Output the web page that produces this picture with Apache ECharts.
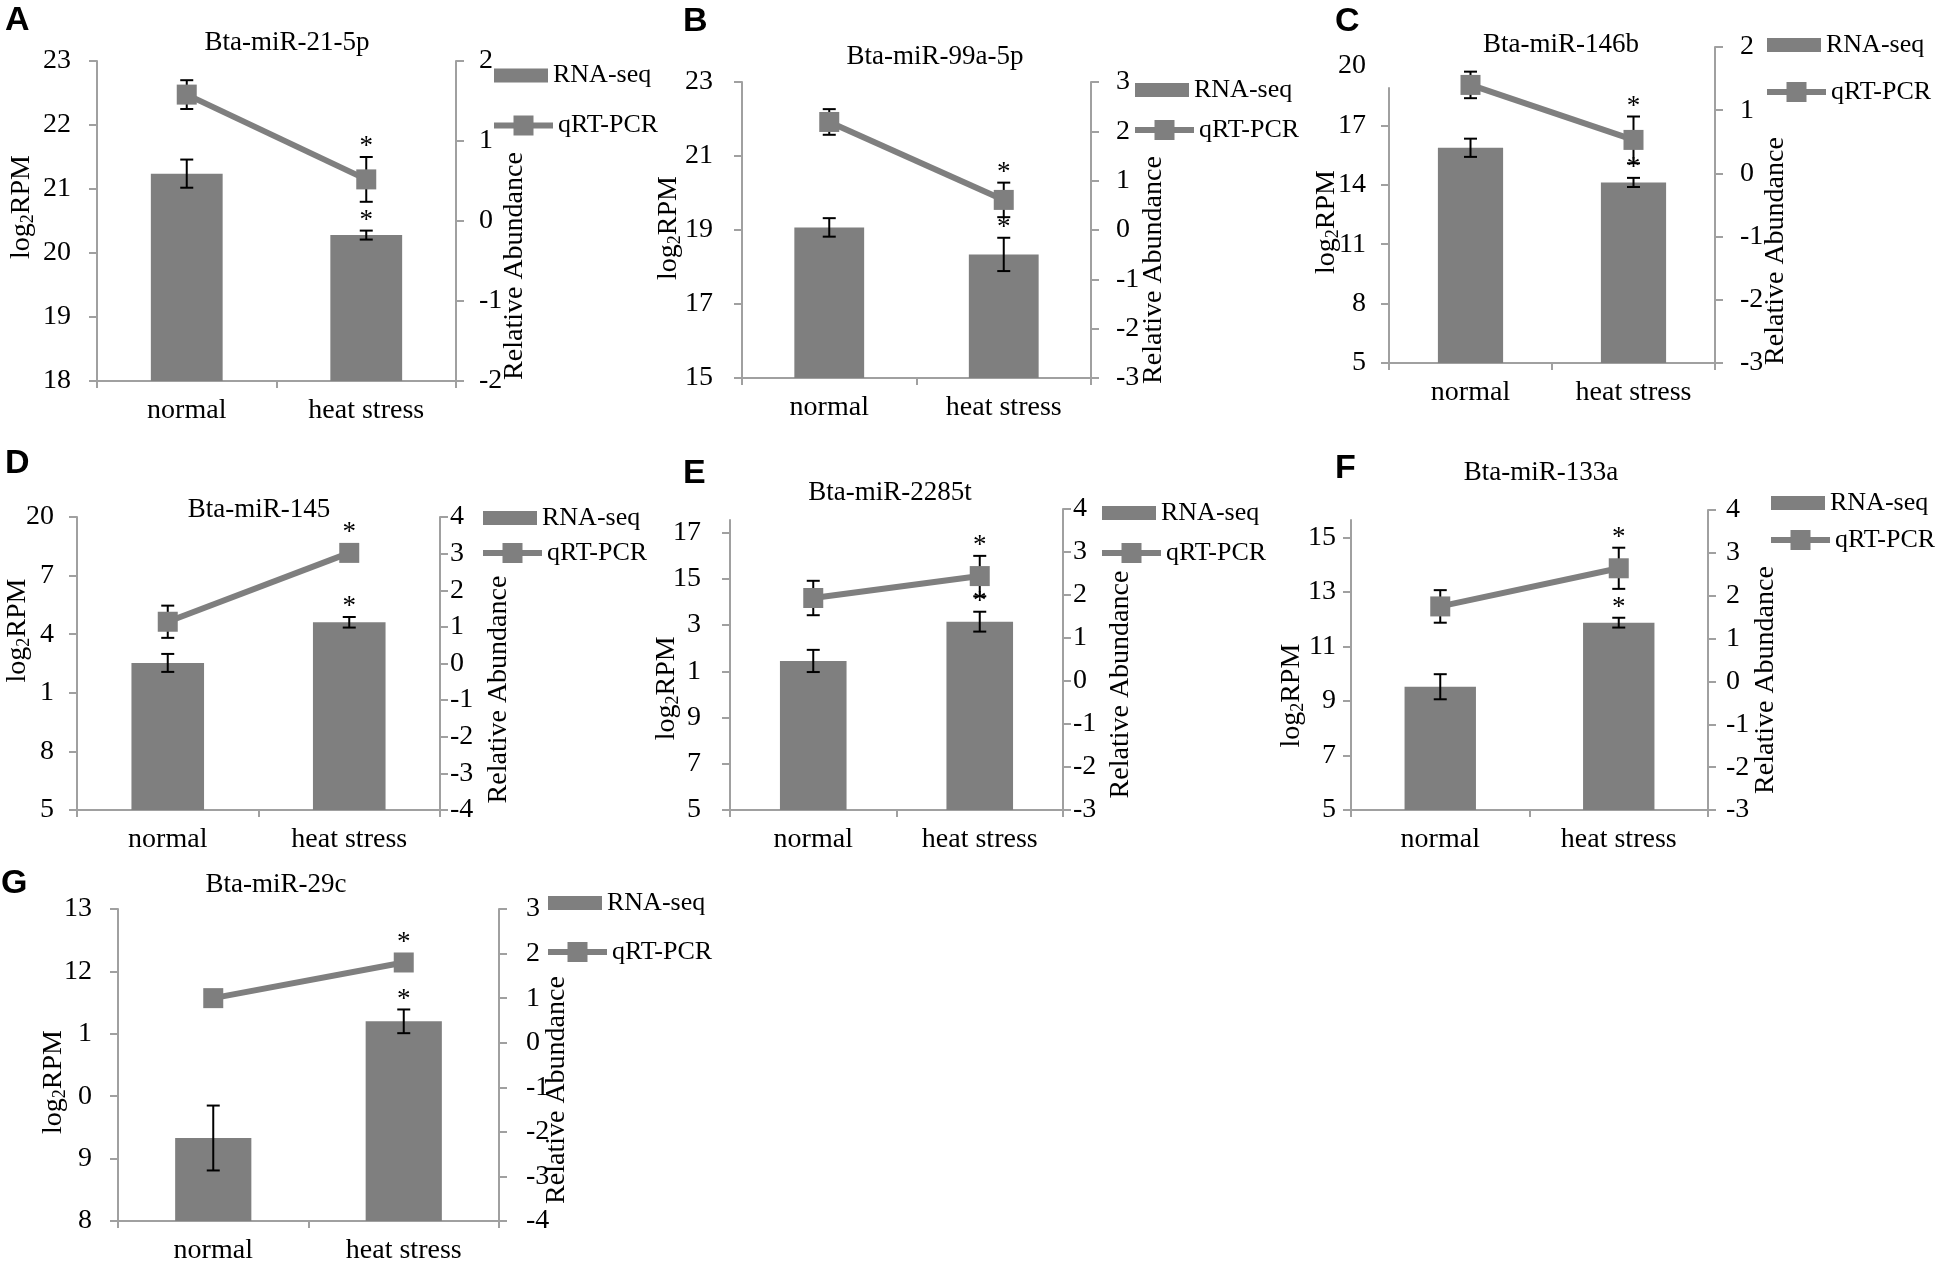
<!DOCTYPE html>
<html><head><meta charset="utf-8">
<script src="https://cdn.jsdelivr.net/npm/echarts@6/dist/echarts.min.js"></script>
<style>html,body{margin:0;padding:0;background:#fff}#c{width:1946px;height:1267px}</style>
</head><body><div id="c"></div>
<script>
// ---------------- DATA ----------------
const categories = ['normal', 'heat stress'];
const panelLetters = ['A', 'B', 'C', 'D', 'E', 'F', 'G'];
const panelTitles = ['Bta-miR-21-5p', 'Bta-miR-99a-5p', 'Bta-miR-146b', 'Bta-miR-145', 'Bta-miR-2285t', 'Bta-miR-133a', 'Bta-miR-29c'];
const rnaStars = [0, 1];
const qpcrStars = [0, 1];

const rnaA = [21.24, 20.28], rnaErrA = [0.22, 0.07], qpcrA = [1.58, 0.52], qpcrErrA = [0.18, 0.28];
const rnaB = [19.07, 18.34], rnaErrB = [0.25, 0.45], qpcrB = [2.19, 0.61], qpcrErrB = [0.26, 0.35];
const rnaC = [15.87, 14.12], rnaErrC = [0.46, 0.23], qpcrC = [1.40, 0.53], qpcrErrC = [0.21, 0.37];
const rnaD = [12.53, 14.61], rnaErrD = [0.46, 0.27], qpcrD = [1.14, 3.02], qpcrErrD = [0.44, 0];
const rnaE = [11.45, 13.15], rnaErrE = [0.48, 0.43], qpcrE = [1.93, 2.44], qpcrErrE = [0.40, 0.47];
const rnaF = [9.52, 11.87], rnaErrF = [0.46, 0.18], qpcrF = [1.75, 2.64], qpcrErrF = [0.38, 0.48];
const rnaG = [9.33, 11.20], rnaErrG = [0.52, 0.19], qpcrG = [1.00, 1.80], qpcrErrG = [0, 0];

// left axis: min, step, tick labels (as printed)
const leftMinA = 18, leftStepA = 1, leftTicksA = ['18', '19', '20', '21', '22', '23'];
const leftMinB = 15, leftStepB = 2, leftTicksB = ['15', '17', '19', '21', '23'];
const leftMinC = 5, leftStepC = 3, leftTicksC = ['5', '8', '11', '14', '17', '20'];
const leftMinD = 5, leftStepD = 3, leftTicksD = ['5', '8', '1', '4', '7', '20'];
const leftMinE = 5, leftStepE = 2, leftTicksE = ['5', '7', '9', '1', '3', '15', '17'];
const leftMinF = 5, leftStepF = 2, leftTicksF = ['5', '7', '9', '11', '13', '15'];
const leftMinG = 8, leftStepG = 1, leftTicksG = ['8', '9', '0', '1', '12', '13'];
// right axis: min and tick labels (step 1)
const rightMinA = -2, rightTicksA = ['-2', '-1', '0', '1', '2'];
const rightMinB = -3, rightTicksB = ['-3', '-2', '-1', '0', '1', '2', '3'];
const rightMinC = -3, rightTicksC = ['-3', '-2', '-1', '0', '1', '2'];
const rightMinD = -4, rightTicksD = ['-4', '-3', '-2', '-1', '0', '1', '2', '3', '4'];
const rightMinE = -3, rightTicksE = ['-3', '-2', '-1', '0', '1', '2', '3', '4'];
const rightMinF = -3, rightTicksF = ['-3', '-2', '-1', '0', '1', '2', '3', '4'];
const rightMinG = -4, rightTicksG = ['-4', '-3', '-2', '-1', '0', '1', '2', '3'];

const panels = [
  {rna: rnaA, rnaErr: rnaErrA, qpcr: qpcrA, qpcrErr: qpcrErrA, leftMin: leftMinA, leftStep: leftStepA, leftTicks: leftTicksA, rightMin: rightMinA, rightTicks: rightTicksA},
  {rna: rnaB, rnaErr: rnaErrB, qpcr: qpcrB, qpcrErr: qpcrErrB, leftMin: leftMinB, leftStep: leftStepB, leftTicks: leftTicksB, rightMin: rightMinB, rightTicks: rightTicksB},
  {rna: rnaC, rnaErr: rnaErrC, qpcr: qpcrC, qpcrErr: qpcrErrC, leftMin: leftMinC, leftStep: leftStepC, leftTicks: leftTicksC, rightMin: rightMinC, rightTicks: rightTicksC},
  {rna: rnaD, rnaErr: rnaErrD, qpcr: qpcrD, qpcrErr: qpcrErrD, leftMin: leftMinD, leftStep: leftStepD, leftTicks: leftTicksD, rightMin: rightMinD, rightTicks: rightTicksD},
  {rna: rnaE, rnaErr: rnaErrE, qpcr: qpcrE, qpcrErr: qpcrErrE, leftMin: leftMinE, leftStep: leftStepE, leftTicks: leftTicksE, rightMin: rightMinE, rightTicks: rightTicksE},
  {rna: rnaF, rnaErr: rnaErrF, qpcr: qpcrF, qpcrErr: qpcrErrF, leftMin: leftMinF, leftStep: leftStepF, leftTicks: leftTicksF, rightMin: rightMinF, rightTicks: rightTicksF},
  {rna: rnaG, rnaErr: rnaErrG, qpcr: qpcrG, qpcrErr: qpcrErrG, leftMin: leftMinG, leftStep: leftStepG, leftTicks: leftTicksG, rightMin: rightMinG, rightTicks: rightTicksG}
];

// ---------------- LAYOUT (pixels) ----------------
const layouts = [
  {L: 97, R: 456, bottom: 381, barTop: 61, lineTop: 61, rightTop: 61, titleX: 287, titleY: 43, letterX: 5, letterY: 6, legX: 494, legY1: 75.5, legY2: 125.5, lNameGap: 60, lShift: -14, lLabMargin: 26, rNameGap: 45, rShift: 45, rLabMargin: 23},
  {L: 742, R: 1091, bottom: 378, barTop: 82, lineTop: 82, rightTop: 82, titleX: 935, titleY: 57, letterX: 683, letterY: 7, legX: 1135, legY1: 90, legY2: 130, lNameGap: 58, lShift: -2, lLabMargin: 29, rNameGap: 49, rShift: 40, rLabMargin: 25},
  {L: 1389, R: 1715, bottom: 363, barTop: 66, lineTop: 88, rightTop: 47, titleX: 1561, titleY: 45, letterX: 1335, letterY: 7, legX: 1767, legY1: 45, legY2: 92, lNameGap: 47, lShift: 7.5, lLabMargin: 23, rNameGap: 47, rShift: 46, rLabMargin: 25},
  {L: 77, R: 440, bottom: 810, barTop: 517, lineTop: 517, rightTop: 517, titleX: 259, titleY: 510, letterX: 5, letterY: 449, legX: 483, legY1: 518, legY2: 553, lNameGap: 44, lShift: -33, lLabMargin: 23, rNameGap: 45, rShift: 26, rLabMargin: 10},
  {L: 730, R: 1063, bottom: 810, barTop: 532.7, lineTop: 520, rightTop: 509, titleX: 890, titleY: 493, letterX: 683, letterY: 459, legX: 1102, legY1: 513, legY2: 553, lNameGap: 48, lShift: 17, lLabMargin: 29, rNameGap: 44, rShift: 25, rLabMargin: 10},
  {L: 1351, R: 1708, bottom: 810, barTop: 537.3, lineTop: 520, rightTop: 510, titleX: 1541, titleY: 473, letterX: 1335, letterY: 454, legX: 1771, legY1: 503, legY2: 540, lNameGap: 44, lShift: 22, lLabMargin: 15, rNameGap: 44, rShift: 20, rLabMargin: 18},
  {L: 118, R: 499, bottom: 1221, barTop: 909, lineTop: 909, rightTop: 909, titleX: 276, titleY: 885, letterX: 1, letterY: 869, legX: 548, legY1: 903, legY2: 952, lNameGap: 49, lShift: 17, lLabMargin: 26, rNameGap: 44, rShift: 25, rLabMargin: 27}
];

const FONT = '"Liberation Serif", "Times New Roman", serif';
const SANS = '"Liberation Sans", Arial, sans-serif';
const AXIS_GRAY = '#a0a0a0';
const BAR_GRAY = '#7f7f7f';

function shiftPadding(d) {
  // text rotated to read bottom-to-top: right padding moves text down, left padding moves it up
  return d >= 0 ? [0, 2 * d, 0, 0] : [0, 0, 0, -2 * d];
}

function makeErrRender(symbolHalf) {
  return function (params, api) {
    const k = api.value(0), v = api.value(1), e = api.value(2), star = api.value(3);
    const c = api.coord([k, v]);
    const hi = api.coord([k, v + e]);
    const lo = api.coord([k, v - e]);
    const half = 6.5;
    const ls = {stroke: '#000', lineWidth: 2};
    const children = [];
    if (e > 0) {
      children.push({type: 'line', shape: {x1: c[0], y1: hi[1], x2: c[0], y2: lo[1]}, style: ls});
      children.push({type: 'line', shape: {x1: c[0] - half, y1: hi[1], x2: c[0] + half, y2: hi[1]}, style: ls});
      children.push({type: 'line', shape: {x1: c[0] - half, y1: lo[1], x2: c[0] + half, y2: lo[1]}, style: ls});
    }
    if (star) {
      const anchor = Math.min(hi[1], c[1] - symbolHalf);
      children.push({type: 'text', style: {text: '*', x: c[0], y: anchor - 10, align: 'center', verticalAlign: 'middle', fill: '#000', font: '27px "Liberation Serif"'}});
    }
    return {type: 'group', children: children};
  };
}

const grid = [], xAxis = [], yAxis = [], series = [], title = [], legend = [];

panels.forEach(function (p, i) {
  const lay = layouts[i];
  const width = lay.R - lay.L;
  const nL = p.leftTicks.length;
  const leftMax = p.leftMin + p.leftStep * (nL - 1);
  const rightMax = p.rightMin + (p.rightTicks.length - 1);

  // ticks only where the left axis line exists
  const leftTickVals = [];
  for (let k = 0; k < nL; k++) {
    const v = p.leftMin + k * p.leftStep;
    const py = lay.barTop + (leftMax - v) / (leftMax - p.leftMin) * (lay.bottom - lay.barTop);
    if (py >= lay.lineTop - 0.5) leftTickVals.push(v);
  }

  const gBar = grid.length;
  grid.push({left: lay.L, top: lay.barTop, width: width, height: lay.bottom - lay.barTop, containLabel: false, outerBoundsMode: 'none'});
  const gAx = grid.length;
  grid.push({left: lay.L, top: lay.lineTop, width: width, height: lay.bottom - lay.lineTop, containLabel: false, outerBoundsMode: 'none'});
  const gLine = grid.length;
  grid.push({left: lay.L, top: lay.rightTop, width: width, height: lay.bottom - lay.rightTop, containLabel: false, outerBoundsMode: 'none'});

  const xBar = xAxis.length;
  xAxis.push({
    type: 'category', gridIndex: gBar, data: categories, boundaryGap: true,
    axisLine: {show: true, onZero: false, lineStyle: {color: AXIS_GRAY, width: 2}},
    axisTick: {show: true, length: 7, interval: 0, alignWithLabel: false, lineStyle: {color: AXIS_GRAY, width: 2}},
    axisLabel: {margin: 16, color: '#000', fontFamily: FONT, fontSize: 28, interval: 0},
    splitLine: {show: false}
  });
  const xAx = xAxis.length;
  xAxis.push({type: 'category', gridIndex: gAx, data: categories, show: false});
  const xLine = xAxis.length;
  xAxis.push({type: 'category', gridIndex: gLine, data: categories, boundaryGap: true, show: false});

  const yBar = yAxis.length;
  yAxis.push({
    type: 'value', gridIndex: gBar, position: 'left', min: p.leftMin, max: leftMax, interval: p.leftStep,
    axisLine: {show: false},
    axisTick: {show: true, length: 8, customValues: leftTickVals, lineStyle: {color: AXIS_GRAY, width: 2}},
    axisLabel: {margin: lay.lLabMargin, color: '#000', fontFamily: FONT, fontSize: 28,
      formatter: function (v) { const t = p.leftTicks[Math.round((v - p.leftMin) / p.leftStep)]; return t == null ? '' : t; }},
    splitLine: {show: false},
    name: 'log{s|2}RPM', nameLocation: 'middle', nameGap: lay.lNameGap, nameMoveOverlap: false,
    nameTextStyle: {fontFamily: FONT, fontSize: 28, color: '#000', lineHeight: 31, padding: shiftPadding(lay.lShift),
      rich: {s: {fontFamily: FONT, fontSize: 18, color: '#000', verticalAlign: 'bottom', lineHeight: 14}}}
  });
  yAxis.push({
    type: 'value', gridIndex: gAx, position: 'left', min: 0, max: 1,
    axisLine: {show: true, lineStyle: {color: AXIS_GRAY, width: 2}},
    axisTick: {show: false}, axisLabel: {show: false}, splitLine: {show: false}
  });
  const yLine = yAxis.length;
  yAxis.push({
    type: 'value', gridIndex: gLine, position: 'right', min: p.rightMin, max: rightMax, interval: 1,
    axisLine: {show: true, onZero: false, lineStyle: {color: AXIS_GRAY, width: 2}},
    axisTick: {show: true, length: 8, lineStyle: {color: AXIS_GRAY, width: 2}},
    axisLabel: {margin: lay.rLabMargin, color: '#000', fontFamily: FONT, fontSize: 28,
      formatter: function (v) { const t = p.rightTicks[Math.round(v - p.rightMin)]; return t == null ? '' : t; }},
    splitLine: {show: false},
    name: 'Relative Abundance', nameLocation: 'middle', nameGap: lay.rNameGap, nameMoveOverlap: false,
    nameTextStyle: {fontFamily: FONT, fontSize: 28, color: '#000', padding: shiftPadding(lay.rShift)}
  });

  series.push({type: 'bar', name: 'RNA-seq', xAxisIndex: xBar, yAxisIndex: yBar, data: p.rna, barWidth: '40%',
    itemStyle: {color: BAR_GRAY}, z: 2, silent: true});
  series.push({type: 'custom', name: 'rnaErr' + i, xAxisIndex: xBar, yAxisIndex: yBar, z: 3, silent: true,
    data: p.rna.map(function (v, k) { return [k, v, p.rnaErr[k], rnaStars[k]]; }),
    renderItem: makeErrRender(0)});
  series.push({type: 'custom', name: 'qErr' + i, xAxisIndex: xLine, yAxisIndex: yLine, z: 4, silent: true,
    data: p.qpcr.map(function (v, k) { return [k, v, p.qpcrErr[k], qpcrStars[k]]; }),
    renderItem: makeErrRender(10)});
  series.push({type: 'line', name: 'qRT-PCR', xAxisIndex: xLine, yAxisIndex: yLine, data: p.qpcr,
    symbol: 'rect', symbolSize: 20, lineStyle: {color: BAR_GRAY, width: 6}, itemStyle: {color: BAR_GRAY},
    z: 5, silent: true});

  title.push({text: panelLetters[i], left: lay.letterX, top: lay.letterY - 2, padding: 0,
    textStyle: {fontFamily: SANS, fontWeight: 'bold', fontSize: 34, color: '#000'}});
  title.push({text: panelTitles[i], left: lay.titleX, top: lay.titleY - 14, textAlign: 'center', padding: 0,
    textStyle: {fontFamily: FONT, fontWeight: 'normal', fontSize: 27, color: '#000'}});

  legend.push({data: [{name: 'RNA-seq', icon: 'rect'}], left: lay.legX, top: lay.legY1 - 14, orient: 'vertical',
    itemWidth: 54, itemHeight: 14, padding: 0, selectedMode: false,
    textStyle: {fontFamily: FONT, fontSize: 26, color: '#000', lineHeight: 28}});
  legend.push({data: ['qRT-PCR'], left: lay.legX - 3, top: lay.legY2 - 14, orient: 'vertical',
    itemWidth: 59, itemHeight: 25, padding: 0, selectedMode: false,
    lineStyle: {width: 6, color: BAR_GRAY},
    textStyle: {fontFamily: FONT, fontSize: 26, color: '#000', lineHeight: 28}});
});

const chart = echarts.init(document.getElementById('c'), null, {renderer: 'canvas'});
chart.setOption({
  backgroundColor: '#fff',
  animation: false,
  title: title,
  legend: legend,
  grid: grid,
  xAxis: xAxis,
  yAxis: yAxis,
  series: series
});
</script></body></html>
